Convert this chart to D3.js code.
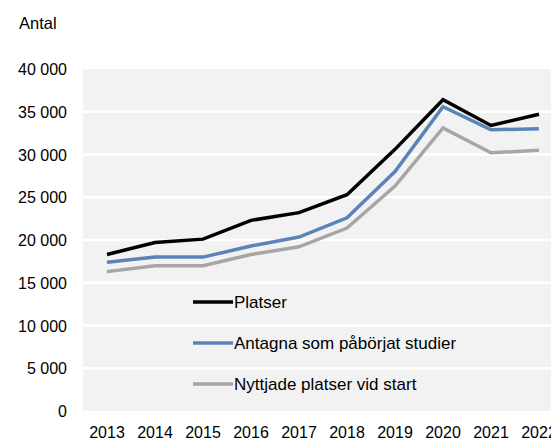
<!DOCTYPE html>
<meta charset="utf-8">
<body style="margin:0;background:#fff">
<style>
  text { font-family: "Liberation Sans", Arial, sans-serif; fill: #000; }
</style>
<div id="chart"></div>
<script src="https://d3js.org/d3.v7.min.js"></script>
<script>
// data
var years = ["2013", "2014", "2015", "2016", "2017", "2018", "2019", "2020", "2021", "2022"];
var platser = [18300, 19700, 20100, 22300, 23200, 25300, 30600, 36400, 33400, 34700];
var antagna = [17400, 18000, 18000, 19300, 20350, 22600, 28000, 35600, 32900, 33000];
var nyttjade = [16300, 17000, 17000, 18300, 19200, 21400, 26300, 33100, 30200, 30500];
var yTicks = [0, 5000, 10000, 15000, 20000, 25000, 30000, 35000, 40000];
var seriesNames = ["Platser", "Antagna som påbörjat studier", "Nyttjade platser vid start"];
var seriesColors = ["#000000", "#5a84b8", "#a6a6a6"];

var W = 551, H = 441;
var plotLeft = 83, plotRight = 563, plotTop = 69, plotBottom = 411;

var svg = d3.select("#chart").append("svg")
  .attr("width", W)
  .attr("height", H);

var x = d3.scaleBand().domain(years).range([plotLeft, plotRight]);
var y = d3.scaleLinear().domain([0, 40000]).range([plotBottom, plotTop]);

// plot background
svg.append("rect")
  .attr("x", plotLeft).attr("y", plotTop)
  .attr("width", plotRight - plotLeft).attr("height", plotBottom - plotTop)
  .attr("fill", "#f2f2f2");

// gridlines
svg.selectAll(".grid")
  .data(yTicks.slice(1, -1))
  .enter().append("line")
  .attr("x1", plotLeft).attr("x2", plotRight)
  .attr("y1", function(d) { return y(d); })
  .attr("y2", function(d) { return y(d); })
  .attr("stroke", "#fff")
  .attr("stroke-width", 2.5);

var fmt = function(d) { return d3.format(",")(d).replace(/,/g, " "); };

// y axis
var yAxis = svg.append("g")
  .attr("transform", "translate(67,0)")
  .call(d3.axisLeft(y).tickValues(yTicks).tickSize(0).tickPadding(0).tickFormat(fmt));
yAxis.select(".domain").remove();
yAxis.selectAll("text").style("font-size", "16px").attr("dy", "0.35em");

// x axis
var xAxis = svg.append("g")
  .attr("transform", "translate(0," + plotBottom + ")")
  .call(d3.axisBottom(x).tickSize(0).tickPadding(16));
xAxis.select(".domain").remove();
xAxis.selectAll("text").style("font-size", "16px");

// axis title
svg.append("text")
  .attr("x", 19).attr("y", 29)
  .style("font-size", "16.5px")
  .text("Antal");

// lines
var allSeries = [platser, antagna, nyttjade];
var line = d3.line()
  .x(function(d, i) { return x(years[i]) + x.bandwidth() / 2; })
  .y(function(d) { return y(d); });

// draw grey first so black ends up on top
[2, 1, 0].forEach(function(k) {
  svg.append("path")
    .datum(allSeries[k])
    .attr("d", line)
    .attr("fill", "none")
    .attr("stroke", seriesColors[k])
    .attr("stroke-width", 3.5)
    .attr("stroke-linejoin", "miter");
});

// legend
var legend = svg.selectAll(".legend")
  .data(seriesNames)
  .enter().append("g")
  .attr("transform", function(d, i) { return "translate(193," + [302, 343, 384][i] + ")"; });

legend.append("line")
  .attr("x1", 0).attr("x2", 40)
  .attr("stroke", function(d, i) { return seriesColors[i]; })
  .attr("stroke-width", 3.5);

legend.append("text")
  .attr("x", 41)
  .attr("dy", "0.35em")
  .style("font-size", "17px")
  .text(function(d) { return d; });
</script>
